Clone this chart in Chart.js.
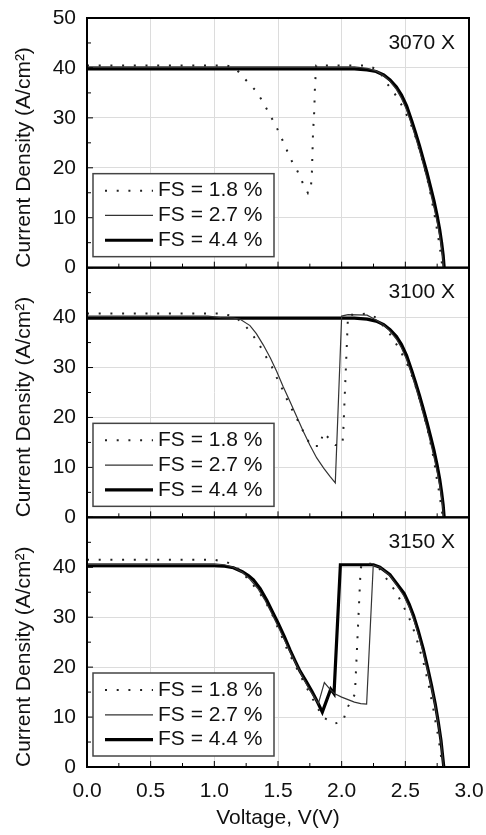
<!DOCTYPE html>
<html>
<head>
<meta charset="utf-8">
<script src="https://cdn.jsdelivr.net/npm/chart.js@4.4.1/dist/chart.umd.min.js"></script>
<style>
html, body { margin: 0; padding: 0; background: #fff; }
#wrap { width: 486px; height: 835px; }
</style>
</head>
<body>
<div id="wrap"><canvas id="chart_jv" width="486" height="835"></canvas></div>
<script>
// panel + legend text
var panelNames = ['3070 X', '3100 X', '3150 X'];
var seriesLabels = ['FS = 1.8 %', 'FS = 2.7 %', 'FS = 4.4 %'];
var xTitle = 'Voltage, V(V)';
var yTitle = 'Current Density (A/cm²)';

// [V, J] points
var p3070_fs18 = [[0,40.5],[1.1,40.5],[1.17,39.8],[1.24,37.8],[1.32,35.6],[1.38,33.3],[1.43,30.9],[1.48,28.6],[1.52,26.4],[1.56,24.1],[1.6,21.7],[1.65,19.5],[1.69,17.2],[1.736,14.9],[1.755,15.5],[1.765,18],[1.77,22.4],[1.775,27],[1.785,31.5],[1.79,36.1],[1.8,40.5],[2.2,40.5],[2.27,39.8],[2.31,38.8],[2.35,37.1],[2.42,34.7],[2.475,32.4],[2.52,30.1],[2.557,27.9],[2.588,25.6],[2.614,23.3],[2.64,21],[2.664,18.7],[2.685,16.4],[2.703,14.1],[2.72,11.8],[2.737,9.5],[2.751,7.2],[2.766,4.9],[2.779,2.6],[2.79,0.3],[2.795,0]];
var p3070_fs27 = [[0,40.2],[2.1,40.2],[2.2,39.9],[2.27,39.4],[2.33,38.5],[2.38,37.3],[2.43,35.7],[2.47,33.9],[2.51,31.6],[2.55,28.6],[2.58,26.2],[2.61,23.6],[2.64,20.8],[2.67,17.9],[2.7,14.8],[2.725,12.1],[2.75,9.1],[2.77,6.4],[2.785,3.9],[2.795,1.8],[2.8,0]];
var p3070_fs44 = [[0,39.8],[2.1,39.8],[2.2,39.6],[2.27,39.3],[2.33,38.6],[2.38,37.6],[2.43,36.2],[2.47,34.6],[2.51,32.4],[2.55,29.4],[2.58,27],[2.61,24.5],[2.64,21.8],[2.67,19],[2.7,16],[2.725,13.4],[2.75,10.4],[2.77,7.6],[2.785,5],[2.797,2.5],[2.805,0]];

var p3100_fs18 = [[0,40.8],[1.05,40.8],[1.15,40.3],[1.22,39],[1.281,37.2],[1.346,34.9],[1.398,32.5],[1.451,30.2],[1.49,28],[1.534,25.7],[1.576,23.3],[1.62,21.1],[1.665,18.9],[1.712,16.5],[1.759,14.3],[1.83,14.3],[1.855,17],[1.95,14.5],[2.005,14.5],[2.012,16.7],[2.05,40.5],[2.2,40.8],[2.27,40],[2.31,38.8],[2.366,37.2],[2.425,34.9],[2.478,32.5],[2.523,30.2],[2.557,28],[2.588,25.7],[2.614,23.4],[2.64,21.2],[2.661,18.9],[2.685,16.5],[2.703,14.2],[2.722,11.9],[2.737,9.5],[2.75,7.2],[2.766,5],[2.779,2.7],[2.792,0.5],[2.797,0]];
var p3100_fs27 = [[0,40.3],[0.95,40.3],[1.05,40],[1.15,39.9],[1.2,39.7],[1.28,38.4],[1.33,36.8],[1.385,34.5],[1.44,31.9],[1.49,29.2],[1.54,26.2],[1.594,23.2],[1.65,20],[1.699,17.2],[1.75,14.5],[1.804,11.9],[1.86,9.8],[1.908,8.2],[1.95,6.9],[2,40.3],[2.05,40.6],[2.2,40.5],[2.27,39.5],[2.33,38.5],[2.38,37.3],[2.43,35.7],[2.47,33.9],[2.51,31.6],[2.55,28.6],[2.58,26.2],[2.61,23.6],[2.64,20.8],[2.67,17.9],[2.7,14.8],[2.725,12.1],[2.75,9.1],[2.77,6.4],[2.785,3.9],[2.795,1.8],[2.8,0]];
var p3100_fs44 = [[0,39.9],[2.1,39.9],[2.2,39.7],[2.27,39.3],[2.33,38.6],[2.38,37.6],[2.43,36.2],[2.47,34.6],[2.51,32.4],[2.55,29.4],[2.58,27],[2.61,24.5],[2.64,21.8],[2.67,19],[2.7,16],[2.725,13.4],[2.75,10.4],[2.77,7.6],[2.785,5],[2.797,2.5],[2.805,0]];

var p3150_fs18 = [[0,41.5],[1,41.5],[1.1,41],[1.15,40.4],[1.202,39.4],[1.28,37.2],[1.354,34.9],[1.412,32.6],[1.459,30.3],[1.498,27.9],[1.537,25.7],[1.574,23.4],[1.62,21.1],[1.665,18.9],[1.712,16.5],[1.759,14.3],[1.804,12.1],[1.856,9.9],[1.947,8.7],[2.012,9.2],[2.039,11.6],[2.104,14.6],[2.149,39.7],[2.16,40.7],[2.25,40.7],[2.3,39.6],[2.366,37.2],[2.431,34.9],[2.478,32.5],[2.523,30.3],[2.557,28.1],[2.588,25.7],[2.614,23.4],[2.64,21.2],[2.661,18.9],[2.682,16.6],[2.7,14.2],[2.718,11.9],[2.734,9.5],[2.75,7.3],[2.765,5],[2.778,2.6],[2.79,0.4],[2.795,0]];
var p3150_fs27 = [[0,40.7],[1,40.7],[1.08,40.5],[1.15,40],[1.22,39],[1.28,37.6],[1.34,35.8],[1.4,33.3],[1.45,30.8],[1.5,28.2],[1.55,25.5],[1.6,22.8],[1.65,20.2],[1.7,17.7],[1.75,15.4],[1.817,12.7],[1.864,16.9],[1.914,15.4],[1.95,14.6],[2,14],[2.05,13.5],[2.1,13],[2.15,12.7],[2.196,12.6],[2.248,40.4],[2.3,40],[2.379,38.3],[2.43,36.5],[2.49,34.2],[2.53,32],[2.565,29.6],[2.6,26.7],[2.64,23],[2.675,19.3],[2.706,15.8],[2.735,12.2],[2.758,8.8],[2.78,5.1],[2.8,0]];
var p3150_fs44 = [[0,40.3],[1,40.3],[1.08,40.2],[1.15,39.9],[1.22,39.1],[1.27,38.3],[1.307,37.5],[1.36,35.7],[1.412,33.4],[1.46,30.9],[1.503,28.7],[1.55,26.1],[1.595,23.4],[1.635,21.2],[1.673,19.2],[1.72,17.2],[1.765,15.2],[1.81,13],[1.848,11],[1.914,15.6],[1.94,14.7],[1.99,40.5],[2.25,40.5],[2.3,40],[2.379,38.5],[2.43,36.8],[2.49,34.8],[2.53,32.6],[2.565,30.3],[2.6,27.4],[2.64,23.7],[2.675,19.9],[2.706,16.3],[2.735,12.6],[2.758,9.1],[2.78,5.3],[2.802,0]];

var panelData = [
  [p3070_fs18, p3070_fs27, p3070_fs44],
  [p3100_fs18, p3100_fs27, p3100_fs44],
  [p3150_fs18, p3150_fs27, p3150_fs44]
];

var FONT = '"Liberation Sans", Arial, sans-serif';
Chart.defaults.font.family = FONT;
Chart.defaults.color = '#111';

var seriesStyle = [
  { borderColor: '#222', borderWidth: 2, borderDash: [2, 9.7], order: 0 },
  { borderColor: '#333', borderWidth: 1.2, borderDash: [], order: 1 },
  { borderColor: '#000', borderWidth: 3.2, borderDash: [], order: 2 }
];

var datasets = [];
panelData.forEach(function (curves, p) {
  curves.forEach(function (pts, s) {
    datasets.push({
      label: seriesLabels[s],
      yAxisID: 'y' + (p + 1),
      data: pts.map(function (q) { return { x: q[0], y: q[1] }; }),
      borderColor: seriesStyle[s].borderColor,
      borderWidth: seriesStyle[s].borderWidth,
      borderDash: seriesStyle[s].borderDash,
      order: seriesStyle[s].order,
      pointRadius: 0,
      tension: 0,
      fill: false
    });
  });
});

function yAxis(hideTop) {
  return {
    type: 'linear',
    position: 'left',
    stack: 'panels',
    stackWeight: 1,
    min: 0,
    max: 50,
    ticks: {
      stepSize: 10,
      autoSkip: false,
      padding: 11,
      font: { size: 21 },
      color: '#111',
      callback: function (v) { return (hideTop && v === 50) ? '' : v; }
    },
    grid: { color: '#dcdcdc', drawTicks: false },
    border: { display: false },
    title: { display: true, text: yTitle, align: 'start', font: { size: 21 }, color: '#111', padding: { top: 12, bottom: 0 } },
    afterFit: function (s) { s.width = 87; s.paddingTop = 0; s.paddingBottom = 0; }
  };
}

var panelDecor = {
  id: 'panelDecor',
  afterDatasetsDraw: function (chart) {
    var ctx = chart.ctx, area = chart.chartArea, xs = chart.scales.x;
    ctx.save();
    ['y1', 'y2', 'y3'].forEach(function (id, p) {
      var ys = chart.scales[id];
      var y0 = ys.getPixelForValue(0), yTop = ys.getPixelForValue(50);
      ctx.setLineDash([]);
      ctx.strokeStyle = '#000';
      ctx.lineWidth = 1;
      ctx.beginPath();
      for (var k = 0; k <= 12; k++) {
        var px = xs.getPixelForValue(k * 0.25);
        ctx.moveTo(px, y0);
        ctx.lineTo(px, y0 - (k % 2 === 0 ? 6 : 4));
      }
      for (var j = 0; j <= 50; j += 5) {
        var py = ys.getPixelForValue(j);
        ctx.moveTo(area.left, py);
        ctx.lineTo(area.left + (j % 10 === 0 ? 6 : 4), py);
      }
      ctx.stroke();
      ctx.lineWidth = 2;
      ctx.strokeRect(area.left, yTop, area.right - area.left, y0 - yTop);

      ctx.fillStyle = '#111';
      ctx.font = '21px ' + FONT;
      ctx.textAlign = 'right';
      ctx.textBaseline = 'middle';
      ctx.fillText(panelNames[p], area.right - 14, yTop + 25);

      // legend box
      var bx = area.left + 6, by = y0 - 94, bw = 181, bh = 83;
      ctx.fillStyle = '#fff';
      ctx.fillRect(bx, by, bw, bh);
      ctx.strokeStyle = '#444';
      ctx.lineWidth = 1.5;
      ctx.strokeRect(bx, by, bw, bh);
      for (var s = 0; s < 3; s++) {
        var ds = chart.data.datasets[p * 3 + s];
        var ry = by + 17 + s * 24.8;
        ctx.setLineDash(ds.borderDash);
        ctx.strokeStyle = ds.borderColor;
        ctx.lineWidth = ds.borderWidth;
        ctx.beginPath();
        ctx.moveTo(bx + 12, ry);
        ctx.lineTo(bx + 60, ry);
        ctx.stroke();
        ctx.setLineDash([]);
        ctx.fillStyle = '#111';
        ctx.textAlign = 'left';
        ctx.fillText(ds.label, bx + 65, ry);
      }
    });
    ctx.restore();
  }
};

// stacked left axes are placed last-defined-first, so y1 goes last to sit on top
var chart_jv = new Chart(document.getElementById('chart_jv'), {
  type: 'line',
  data: { datasets: datasets },
  options: {
    animation: false,
    responsive: false,
    layout: { padding: { top: 18, right: 17, left: 0, bottom: 0 } },
    plugins: { legend: { display: false }, tooltip: { enabled: false } },
    scales: {
      x: {
        type: 'linear',
        position: 'bottom',
        min: 0,
        max: 3,
        ticks: { stepSize: 0.5, padding: 12, font: { size: 21 }, color: '#111', callback: function (v) { return v.toFixed(1); } },
        grid: { color: '#dcdcdc', drawTicks: false },
        border: { display: false },
        title: { display: true, text: xTitle, font: { size: 21 }, color: '#111', padding: { top: 0, bottom: 4 } },
        afterFit: function (s) { s.height = 68; s.paddingLeft = 0; s.paddingRight = 0; }
      },
      y3: yAxis(true),
      y2: yAxis(true),
      y1: yAxis(false)
    }
  },
  plugins: [panelDecor]
});
</script>
</body>
</html>
